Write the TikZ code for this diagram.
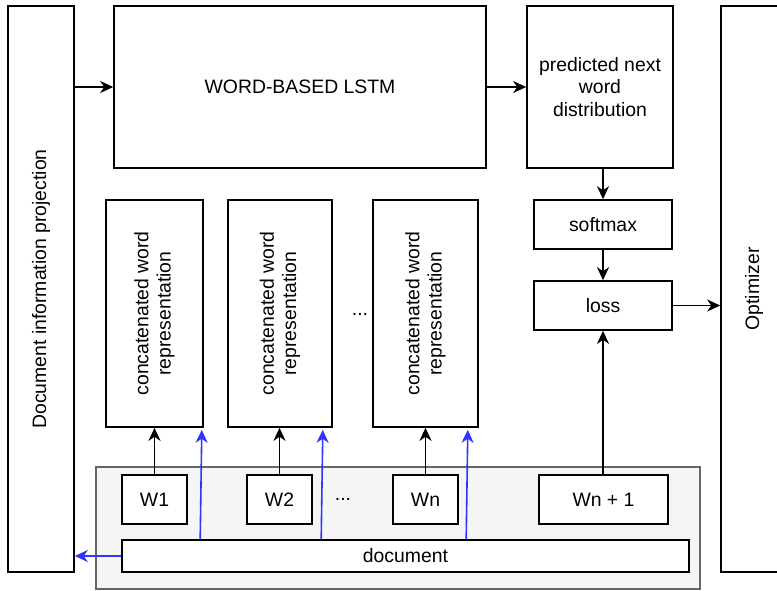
\documentclass[tikz,border=0pt]{standalone}
\usepackage{fontspec}
\setmainfont{Liberation Sans}
\usetikzlibrary{arrows.meta,calc}
\definecolor{linkblue}{HTML}{3333FF}
\definecolor{panelgray}{HTML}{F5F5F5}
\definecolor{panelstroke}{HTML}{666666}
\begin{document}
\begin{tikzpicture}[x=1pt,y=-1pt,
  every node/.style={font=\fontsize{19.4}{22.3}\selectfont},
  box/.style={draw=black,line width=1.6pt,fill=white,rectangle,inner sep=0pt,align=center},
  arr/.style={line width=1.6pt,-{Stealth[length=13pt,width=12pt,inset=4pt]}},
  barr/.style={arr,draw=linkblue}]
\clip (0,0) rectangle (777,590);
\useasboundingbox (0,0) rectangle (777,590);
\fill[white] (0,0) rectangle (777,590);

% panel holding the input words and the document
\node[draw=panelstroke,fill=panelgray,line width=1.6pt,rectangle,inner sep=0pt,
      minimum width=604pt,minimum height=122pt] (panel) at (398,528) {};

% side columns
\node[box,minimum width=66pt,minimum height=566pt] (proj) at (41,289) {};
\node[rotate=90] (projtxt) at (proj.center) {Document information projection};
\node[box,minimum width=66pt,minimum height=566pt] (opt) at (754,289) {};
\node[rotate=90] (opttxt) at (opt.center) {Optimizer};

% language model and its output
\node[box,minimum width=372pt,minimum height=162pt] (lstm) at (300,87) {WORD-BASED LSTM};
\node[box,minimum width=146pt,minimum height=162pt] (pred) at (600,87) {predicted next\\word\\distribution};
\node[box,minimum width=138pt,minimum height=49pt] (soft) at (603,224.5) {softmax};
\node[box,minimum width=138pt,minimum height=49pt] (loss) at (603,305.5) {loss};

% concatenated word representations
\node[box,minimum width=97pt,minimum height=227pt] (c1) at (154.5,313.5) {};
\node[box,minimum width=104pt,minimum height=227pt] (c2) at (280,313.5) {};
\node[box,minimum width=105pt,minimum height=227pt] (c3) at (425.5,313.5) {};
\foreach \c in {c1,c2,c3}
  \node[rotate=90,align=center] (\c txt) at (\c.center) {concatenated word\\representation};
\node (dotsmid) at (360,314) {...};

% input words and document
\node[box,minimum width=65pt,minimum height=49pt] (w1) at (154.5,499.5) {W1};
\node[box,minimum width=65pt,minimum height=49pt] (w2) at (279.5,499.5) {W2};
\node[box,minimum width=65pt,minimum height=49pt] (wn) at (425.5,499.5) {Wn};
\node[box,minimum width=129pt,minimum height=49pt] (wn1) at (603.5,499.5) {Wn + 1};
\node (dotslow) at (343,499) {...};
\node[box,minimum width=567pt,minimum height=32pt] (doc) at (405.5,556) {document};

% connectors
\draw[arr] (proj.east |- lstm.west) -- (lstm.west);
\draw[arr] (lstm.east) -- (pred.west);
\draw[arr] (pred.south -| soft.north) -- (soft.north);
\draw[arr] (soft.south) -- (loss.north);
\draw[arr] (wn1.north -| loss.south) -- (loss.south);
\draw[arr] (loss.east) -- (loss.east -| opt.west);
\draw[arr] (w1.north) -- (w1.north |- c1.south);
\draw[arr] (w2.north) -- (w2.north |- c2.south);
\draw[arr] (wn.north) -- (wn.north |- c3.south);

% document links
\draw[barr] ($(doc.north west)+(79,0)$) -- ($(c1.south east)+(-2,2)$);
\draw[barr] ($(doc.north west)+(200,0)$) -- ($(c2.south east)+(-10,2)$);
\draw[barr] ($(doc.north west)+(345,0)$) -- ($(c3.south east)+(-11,2)$);
\draw[barr] (doc.west) -- (doc.west -| proj.east);
\end{tikzpicture}
\end{document}
